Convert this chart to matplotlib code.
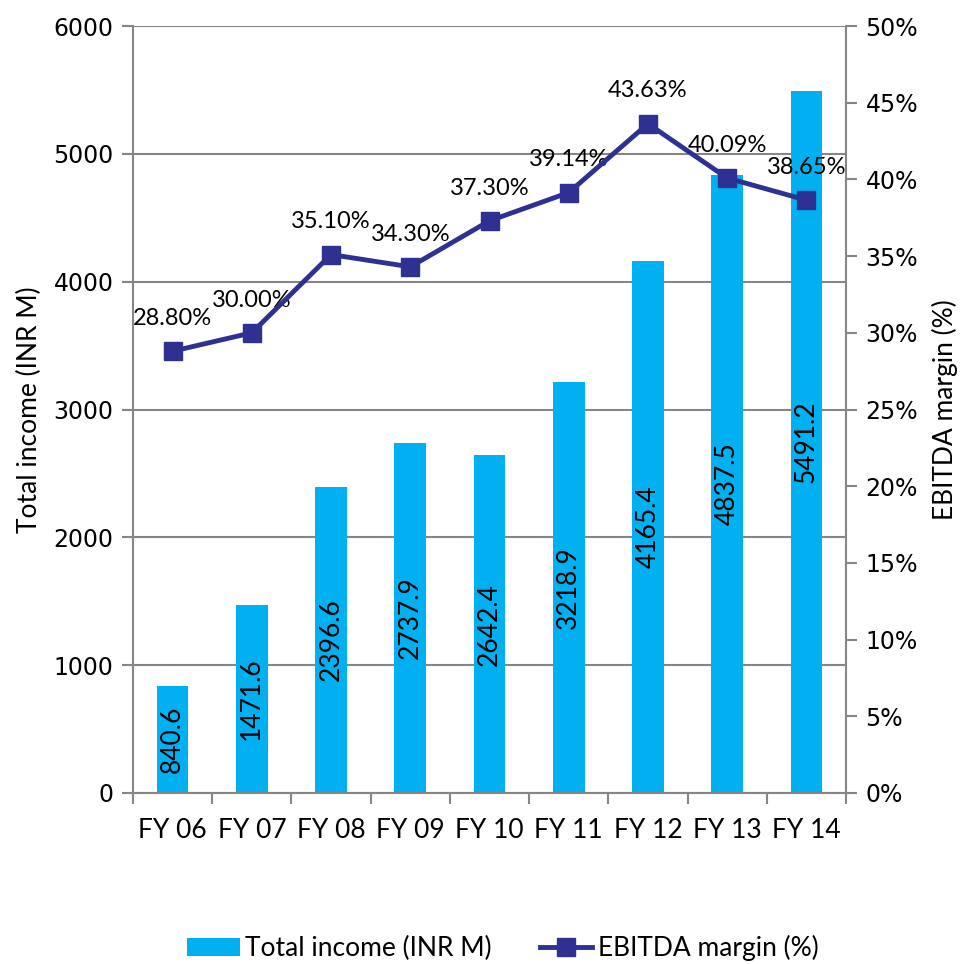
import numpy as np
import matplotlib.pyplot as plt
from matplotlib.ticker import FixedLocator, PercentFormatter

years = ['FY 06', 'FY 07', 'FY 08', 'FY 09', 'FY 10', 'FY 11', 'FY 12', 'FY 13', 'FY 14']
income = [840.6, 1471.6, 2396.6, 2737.9, 2642.4, 3218.9, 4165.4, 4837.5, 5491.2]
margin = [28.80, 30.00, 35.10, 34.30, 37.30, 39.14, 43.63, 40.09, 38.65]

bar_col = '#00B0F0'
line_col = '#2E3192'
grey = '#868686'
txt_font = 'Lato'

fig = plt.figure(figsize=(9.67, 9.64), dpi=100)
ax = fig.add_axes([133/967, 1-793/964, (846-133)/967, (793-26)/964])
x = np.arange(len(years))

bars = ax.bar(x, income, width=0.4, color=bar_col, zorder=2, label='Total income (INR M)')
for xi, v in zip(x, income):
    ax.text(xi, v/2, f'{v:.1f}', rotation=90, ha='center', va='center',
            fontsize=19, family=txt_font, zorder=3)

ax.set_xlim(-0.5, len(years)-0.5)
ax.set_ylim(0, 6000)
ax.set_yticks(np.arange(0, 6001, 1000))
ax.yaxis.grid(True, color=grey, linewidth=1.5, zorder=0)
ax.set_axisbelow(True)
ax.set_xticks(x)
ax.set_xticklabels(years, fontsize=19, family=txt_font)
ax.xaxis.set_minor_locator(FixedLocator(np.arange(-0.5, len(years), 1)))
ax.tick_params(axis='x', which='major', length=0, pad=18)
ax.tick_params(axis='x', which='minor', length=8, width=1.5, color=grey, direction='out')
ax.tick_params(axis='y', length=8, width=1.5, color=grey, labelsize=17, pad=6)
ax.set_ylabel('Total income (INR M)', fontsize=19, family=txt_font, labelpad=8)
for s in ['top', 'right']:
    ax.spines[s].set_visible(False)
for s in ['left', 'bottom']:
    ax.spines[s].set_color(grey)
    ax.spines[s].set_linewidth(1.5)

ax2 = ax.twinx()
line, = ax2.plot(x, margin, color=line_col, linewidth=3.5, marker='s', markersize=13,
                 label='EBITDA margin (%)', zorder=4)
for xi, v in zip(x, margin):
    ax2.annotate(f'{v:.2f}%', (xi, v), xytext=(0, 16), textcoords='offset points',
                 ha='center', va='bottom', fontsize=17, family=txt_font)
ax2.set_ylim(0, 50)
ax2.set_yticks(np.arange(0, 51, 5))
ax2.yaxis.set_major_formatter(PercentFormatter(decimals=0))
ax2.tick_params(axis='y', length=8, width=1.5, color=grey, labelsize=17, pad=6)
ax2.set_ylabel('EBITDA margin (%)', fontsize=19, family=txt_font, labelpad=10)
for s in ['top', 'left', 'bottom']:
    ax2.spines[s].set_visible(False)
ax2.spines['right'].set_color(grey)
ax2.spines['right'].set_linewidth(1.5)

fig.legend([bars, line], ['Total income (INR M)', 'EBITDA margin (%)'],
           loc='center', bbox_to_anchor=(0.52, 1-948/964), ncol=2, frameon=False,
           prop={'family': txt_font, 'size': 19}, handlelength=2.0, handletextpad=0.2,
           columnspacing=1.8)

fig.savefig('out.png', dpi=100)
